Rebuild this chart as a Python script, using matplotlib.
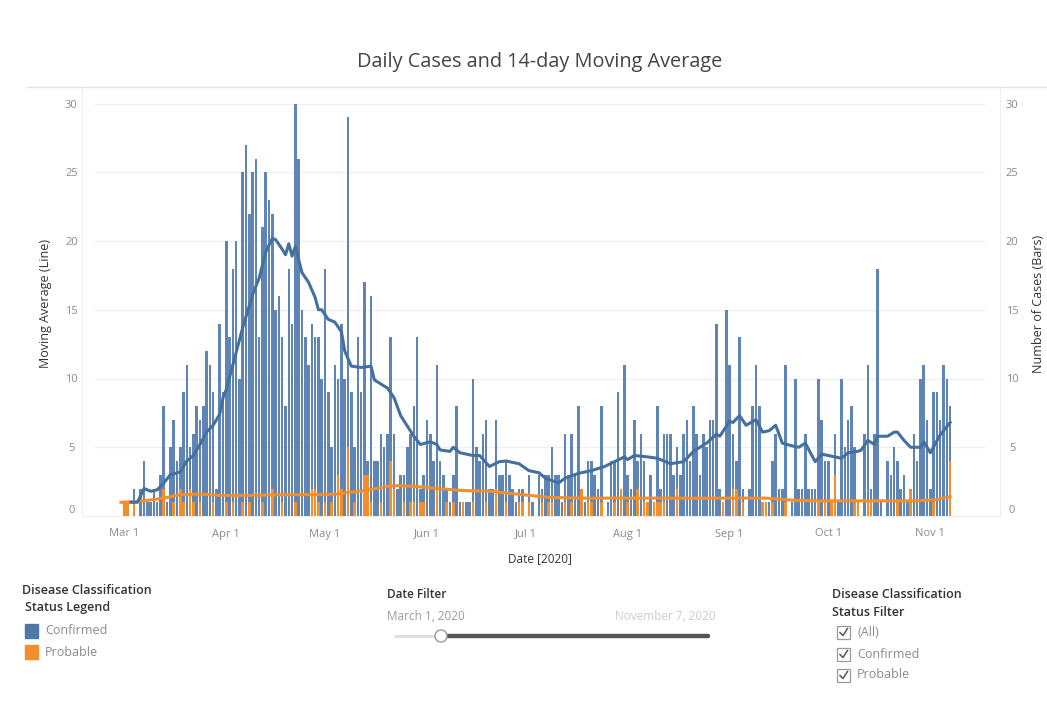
import matplotlib
matplotlib.use("Agg")
import matplotlib.pyplot as plt
import matplotlib.dates as mdates
import numpy as np
import pandas as pd
from matplotlib.patches import Rectangle, Circle

# ---------------- data ----------------
start_date = "2020-02-29"   # first day of the daily series (index 0)

confirmed = [
    0, 0, 0, 0, 2, 0, 2, 4, 1, 1,
    2, 1, 3, 8, 1, 5, 7, 4, 5, 9,
    11, 5, 6, 8, 7, 8, 12, 11, 9, 2,
    14, 9, 20, 13, 18, 20, 10, 25, 27, 22,
    25, 26, 13, 21, 25, 23, 22, 15, 16, 13,
    8, 18, 14, 30, 26, 15, 13, 11, 14, 13,
    13, 10, 18, 9, 5, 11, 10, 14, 10, 29,
    9, 5, 13, 9, 17, 4, 16, 4, 4, 6,
    5, 6, 13, 6, 2, 3, 3, 5, 6, 8,
    13, 2, 3, 7, 6, 4, 11, 4, 3, 2,
    1, 3, 8, 1, 1, 1, 1, 10, 5, 4,
    6, 7, 2, 2, 7, 3, 3, 4, 3, 2,
    1, 2, 2, 0, 3, 1, 0, 3, 2, 3,
    3, 5, 3, 3, 1, 6, 3, 6, 3, 8,
    2, 1, 4, 4, 3, 2, 8, 0, 1, 4,
    4, 9, 2, 11, 3, 2, 7, 4, 6, 4,
    1, 3, 1, 8, 2, 6, 6, 6, 3, 5,
    3, 6, 7, 4, 8, 6, 3, 6, 5, 7,
    7, 14, 2, 0, 15, 11, 6, 4, 13, 2,
    0, 2, 8, 11, 8, 1, 0, 1, 4, 6,
    2, 2, 11, 0, 1, 10, 2, 2, 6, 2,
    2, 2, 10, 7, 4, 4, 1, 6, 1, 10,
    5, 7, 8, 5, 1, 0, 6, 11, 2, 6,
    18, 1, 0, 4, 3, 5, 4, 2, 3, 1,
    2, 6, 4, 10, 11, 7, 2, 9, 9, 7,
    11, 10, 8,
]

probable = [
    0, 1, 1, 0, 1, 0, 0, 0, 0, 0,
    0, 0, 0, 2, 0, 0, 1, 0, 2, 1,
    0, 2, 1, 0, 1, 0, 0, 0, 1, 0,
    0, 0, 1, 0, 1, 0, 0, 1, 0, 1,
    0, 0, 0, 1, 0, 0, 2, 0, 0, 1,
    0, 0, 0, 1, 0, 0, 0, 0, 2, 2,
    1, 0, 1, 0, 1, 0, 3, 2, 0, 5,
    0, 1, 0, 0, 3, 3, 1, 0, 0, 1,
    0, 0, 4, 2, 0, 0, 1, 0, 1, 1,
    0, 1, 1, 0, 0, 0, 2, 0, 0, 1,
    0, 1, 0, 0, 1, 0, 0, 1, 0, 0,
    0, 1, 0, 0, 2, 0, 0, 1, 0, 0,
    0, 1, 1, 0, 1, 0, 0, 0, 1, 0,
    1, 1, 0, 0, 0, 1, 0, 1, 0, 0,
    2, 0, 1, 1, 0, 0, 1, 0, 0, 0,
    1, 0, 2, 0, 1, 0, 0, 2, 0, 1,
    1, 0, 1, 1, 1, 1, 0, 0, 0, 2,
    0, 0, 0, 0, 0, 0, 0, 0, 0, 0,
    0, 0, 0, 1, 0, 0, 2, 2, 0, 1,
    0, 0, 0, 0, 0, 1, 1, 0, 1, 0,
    0, 0, 1, 0, 0, 0, 0, 0, 0, 0,
    0, 0, 1, 0, 1, 0, 1, 3, 0, 0,
    0, 0, 0, 1, 1, 0, 0, 1, 1, 0,
    0, 0, 0, 0, 0, 0, 1, 0, 0, 0,
    2, 0, 0, 0, 0, 0, 0, 1, 0, 0,
    0, 0, 4,
]

ma_confirmed_dates = [
    "03-03", "03-05", "03-07", "03-09", "03-11", "03-13", "03-15", "03-18",
    "03-20", "03-22", "03-24", "03-26", "03-28", "03-30", "03-31", "04-01",
    "04-03", "04-06", "04-09", "04-11", "04-13", "04-15", "04-16", "04-18",
    "04-19", "04-20", "04-21", "04-22", "04-24", "04-26", "04-28", "04-29",
    "04-30", "05-02", "05-04", "05-06", "05-07", "05-09", "05-12", "05-15",
    "05-16", "05-20", "05-22", "05-24", "05-28", "05-30", "06-02", "06-04",
    "06-05", "06-08", "06-09", "06-11", "06-15", "06-17", "06-20", "06-23",
    "06-25", "06-29", "07-02", "07-05", "07-07", "07-11", "07-13", "07-17",
    "07-21", "07-25", "07-28", "07-31", "08-01", "08-03", "08-07", "08-10",
    "08-14", "08-18", "08-21", "08-25", "08-28", "08-29", "09-01", "09-02",
    "09-04", "09-06", "09-09", "09-11", "09-13", "09-15", "09-17", "09-20",
    "09-22", "09-24", "09-27", "09-29", "10-03", "10-05", "10-07", "10-10",
    "10-11", "10-13", "10-15", "10-16", "10-19", "10-21", "10-22", "10-24",
    "10-26", "10-29", "10-30", "11-01", "11-04", "11-07",
]
ma_confirmed = [
    1.0, 1.0, 2.0, 1.8, 1.9, 2.4, 3.0, 3.2,
    4.0, 4.4, 5.2, 6.1, 6.6, 7.4, 8.6, 9.2,
    11.0, 13.7, 16.1, 17.3, 19.2, 20.2, 20.1, 19.4,
    19.0, 19.8, 18.9, 19.6, 17.7, 17.0, 15.9, 15.0,
    15.0, 14.3, 14.1, 13.4, 12.0, 10.9, 10.8, 10.9,
    9.9, 9.3, 8.6, 7.3, 5.8, 5.2, 5.4, 5.2,
    4.8, 4.7, 5.0, 4.6, 4.4, 4.4, 3.6, 3.95,
    4.0, 3.8, 3.3, 3.15, 2.75, 2.4, 2.75, 3.1,
    3.3, 3.6, 3.95, 4.3, 4.1, 4.4, 4.3, 4.2,
    3.8, 3.95, 4.7, 5.3, 5.95, 5.8, 6.9, 6.8,
    7.3, 6.6, 7.0, 6.1, 6.2, 6.6, 5.3, 5.1,
    5.0, 5.3, 3.95, 4.5, 4.3, 4.2, 4.6, 4.7,
    4.8, 5.5, 5.2, 5.8, 5.8, 6.1, 6.1, 5.5,
    5.0, 5.0, 5.4, 4.6, 5.9, 6.8,
]

ma_probable_dates = [
    "02-29", "03-05", "03-10", "03-14", "03-18", "03-24", "03-30", "04-09",
    "04-19", "04-29", "05-05", "05-11", "05-17", "05-21", "05-25", "05-31",
    "06-04", "06-12", "06-20", "06-28", "07-04", "07-08", "07-18", "07-28",
    "08-07", "08-17", "08-27", "09-06", "09-12", "09-20", "09-28", "10-08",
    "10-18", "10-28", "11-03", "11-07",
]
ma_probable = [
    1.0, 1.05, 1.2, 1.35, 1.55, 1.6, 1.5, 1.5,
    1.55, 1.55, 1.6, 1.8, 2.0, 2.2, 2.2, 2.1,
    2.0, 1.85, 1.8, 1.6, 1.45, 1.35, 1.3, 1.3,
    1.3, 1.3, 1.3, 1.3, 1.3, 1.15, 1.1, 1.1,
    1.1, 1.1, 1.2, 1.4,
]

month_ticks = ["2020-03-01", "2020-04-01", "2020-05-01", "2020-06-01", "2020-07-01",
               "2020-08-01", "2020-09-01", "2020-10-01", "2020-11-01"]
month_labels = ["Mar 1", "Apr 1", "May 1", "Jun 1", "Jul 1", "Aug 1", "Sep 1", "Oct 1", "Nov 1"]
y_ticks = [0, 5, 10, 15, 20, 25, 30]

title = "Daily Cases and 14-day Moving Average"

# ---------------- style ----------------
BLUE_BAR = "#5f84b6"
BLUE_LINE = "#44709f"
ORANGE = "#f28e2b"
FONT = "Open Sans"
plt.rcParams["font.family"] = [FONT, "DejaVu Sans"]

W, H = 1047, 709
fig = plt.figure(figsize=(W / 100, H / 100), dpi=100)
fig.patch.set_facecolor("white")

# axes rectangle in pixels
L, R, T, B = 95, 985, 92, 516
ax = fig.add_axes([L / W, 1 - B / H, (R - L) / W, (B - T) / H])

dates = pd.date_range(start_date, periods=len(confirmed), freq="D")
xnum = mdates.date2num(dates)
ma_c_x = mdates.date2num(pd.to_datetime(["2020-" + d for d in ma_confirmed_dates]))
ma_p_x = mdates.date2num(pd.to_datetime(["2020-" + d for d in ma_probable_dates]))

ax.bar(xnum, confirmed, width=0.78, color=BLUE_BAR, zorder=2, linewidth=0)
ax.bar(xnum, probable, width=0.78, color=ORANGE, zorder=3, linewidth=0)
ax.plot(ma_c_x, ma_confirmed, color=BLUE_LINE, lw=2.2, zorder=5, solid_joinstyle="round")
ax.plot(ma_p_x, ma_probable, color=ORANGE, lw=2.2, zorder=4, solid_joinstyle="round")

x0 = mdates.date2num(pd.Timestamp(start_date))
px_per_day = 3.29
ax.set_xlim(x0 - (121 - L) / px_per_day, x0 + (R - 121) / px_per_day)
ymax = (B - T) / 13.75
ax.set_ylim(0, ymax)

ax.set_xticks(mdates.date2num(pd.to_datetime(month_ticks)))
ax.set_xticklabels(month_labels)
ax.set_yticks(y_ticks)
ax.set_yticklabels([str(v) for v in y_ticks])
ax.tick_params(axis="both", length=0, labelsize=8, labelcolor="#8a8a8a")
ax.tick_params(axis="x", pad=9)
ax.tick_params(axis="y", pad=17)
for lab in ax.get_yticklabels():
    lab.set_horizontalalignment("center")
ax.grid(axis="y", color="#efefef", lw=0.9, zorder=0)
ax.set_axisbelow(True)
for s in ax.spines.values():
    s.set_visible(False)
ax.yaxis.get_major_ticks()[0].label1.set_verticalalignment("bottom")

ax2 = ax.twinx()
ax2.set_ylim(ax.get_ylim())
ax2.set_yticks(y_ticks)
ax2.set_yticklabels([str(v) for v in y_ticks])
ax2.tick_params(axis="y", length=0, labelsize=8, labelcolor="#8a8a8a", pad=19.5)
for lab in ax2.get_yticklabels():
    lab.set_horizontalalignment("center")
ax2.yaxis.get_major_ticks()[0].label2.set_verticalalignment("bottom")
for s in ax2.spines.values():
    s.set_visible(False)

ax.set_xlabel("Date [2020]", fontsize=8.5, color="#333333", labelpad=9)
ax.set_ylabel("Moving Average (Line)", fontsize=9, color="#333333")
ax2.set_ylabel("Number of Cases (Bars)", fontsize=9, color="#333333", rotation=90)
ax.yaxis.set_label_coords((45 - L) / (R - L), 0.5)
ax2.yaxis.set_label_coords((1039 - L) / (R - L), 0.5)
ax2.yaxis.label.set_verticalalignment("center")
ax.yaxis.label.set_verticalalignment("center")

# ---------------- overlay (dashboard chrome) ----------------
ov = fig.add_axes([0, 0, 1, 1], zorder=-1)
ov.set_xlim(0, W)
ov.set_ylim(H, 0)
ov.axis("off")

ov.text(540, 62, title, ha="center", va="center", fontsize=14.3, color="#444444")
ov.plot([27, W], [87, 87], color="#e4e4e4", lw=1.0)
ov.plot([82, 82], [87, 516], color="#eeeeee", lw=0.8)
ov.plot([1000, 1000], [87, 516], color="#eeeeee", lw=0.8)
ov.plot([82, 1000], [516, 516], color="#eeeeee", lw=0.8)

# left legend
ov.text(22, 590, "Disease Classification", ha="left", va="center", fontsize=9,
        color="#333333", fontweight="semibold")
ov.text(25, 607, "Status Legend", ha="left", va="center", fontsize=9,
        color="#333333", fontweight="semibold")
ov.add_patch(Rectangle((25, 624), 13, 14, color="#4e79a7"))
ov.add_patch(Rectangle((25, 645), 13, 14, color=ORANGE))
ov.text(45, 631, "Confirmed", ha="left", va="center", fontsize=9, color="#8a8a8a")
ov.text(45, 652, "Probable", ha="left", va="center", fontsize=9, color="#8a8a8a")

# date filter
ov.text(387, 594, "Date Filter", ha="left", va="center", fontsize=8.5,
        color="#333333", fontweight="semibold")
ov.text(387, 616, "March 1, 2020", ha="left", va="center", fontsize=8.5, color="#9a9a9a")
ov.text(716, 616, "November 7, 2020", ha="right", va="center", fontsize=8.5, color="#cccccc")
ov.plot([395, 441], [636, 636], color="#dddddd", lw=2, solid_capstyle="round")
ov.plot([441, 708], [636, 636], color="#555555", lw=3.2, solid_capstyle="round")
ov.add_patch(Circle((441, 636), 6, facecolor="white", edgecolor="#999999", lw=1, zorder=5))

# right filter
ov.text(832, 594, "Disease Classification", ha="left", va="center", fontsize=9,
        color="#333333", fontweight="semibold")
ov.text(832, 613, "Status Filter", ha="left", va="center", fontsize=9,
        color="#333333", fontweight="semibold")
for yy, lab in zip([632, 654, 675], ["(All)", "Confirmed", "Probable"]):
    ov.add_patch(Rectangle((837, yy - 6.5), 13, 13, facecolor="white",
                           edgecolor="#9a9a9a", lw=0.9))
    ov.plot([840, 843, 847.5], [yy + 0.5, yy + 3.5, yy - 3.5], color="#555555", lw=1.1)
    ov.text(857, yy, lab, ha="left", va="center", fontsize=9, color="#8a8a8a")

fig.savefig("out.png", dpi=100, facecolor="white")
